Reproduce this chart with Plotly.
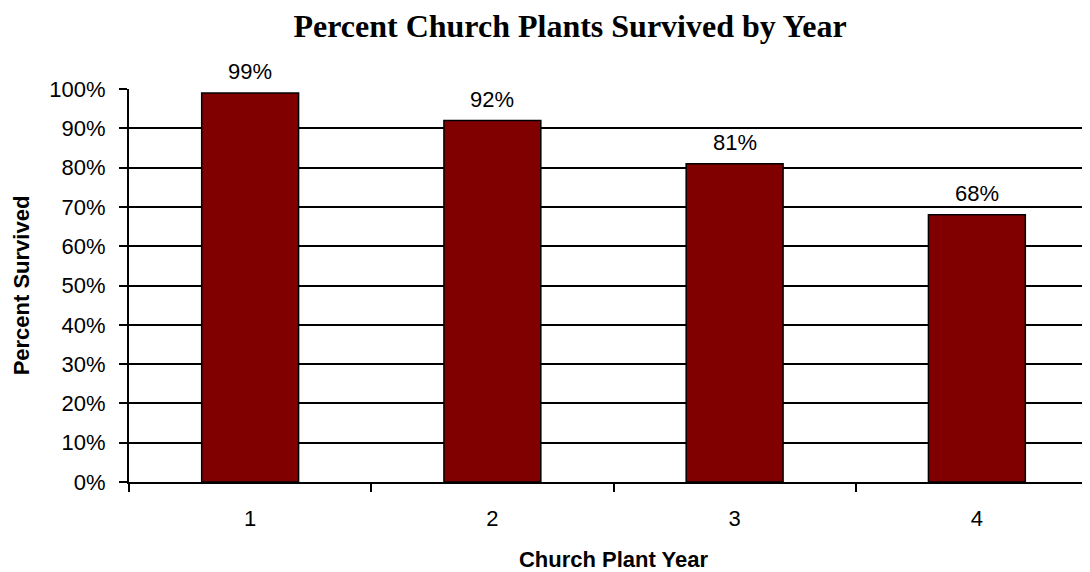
import plotly.graph_objects as go

categories = ["1", "2", "3", "4"]
survived = [99, 92, 81, 68]
y_ticks = list(range(0, 101, 10))
y_tick_labels = [f"{v}%" for v in y_ticks]

fig = go.Figure()
fig.add_trace(go.Bar(
    x=categories,
    y=survived,
    width=0.4,
    marker=dict(color="#800000", line=dict(color="#000000", width=1.5)),
    hoverinfo="skip",
))

for i, v in enumerate(survived):
    fig.add_annotation(
        x=i, y=v, xref="x", yref="y",
        text=f"{v}%", showarrow=False,
        yanchor="middle", yshift=21,
        font=dict(family="Liberation Sans, Arial", size=22, color="#000000"),
    )

fig.update_layout(
    width=1090, height=564,
    margin=dict(l=121, r=0, t=81, b=90),
    paper_bgcolor="#ffffff", plot_bgcolor="#ffffff",
    showlegend=False,
    title=dict(
        text="<b>Percent Church Plants Survived by Year</b>",
        x=562 / 1090, xref="container", xanchor="center",
        y=1 - 18 / 564, yref="container", yanchor="middle",
        font=dict(family="Liberation Serif, Times New Roman", size=32, color="#000000"),
    ),
    font=dict(family="Liberation Sans, Arial", size=22, color="#000000"),
    bargap=0.6,
)

fig.update_xaxes(
    type="category",
    range=[-0.5, 3.5],
    showline=True, linecolor="#000000", linewidth=2,
    ticks="outside", tickson="boundaries", ticklen=8, tickwidth=1.5, tickcolor="#000000",
    ticklabelstandoff=16,
    showgrid=False, zeroline=False,
    tickfont=dict(size=22),
    title=dict(text="<b>Church Plant Year</b>", font=dict(size=22), standoff=22),
)

fig.update_yaxes(
    range=[0, 100],
    tickvals=y_ticks, ticktext=y_tick_labels,
    showline=True, linecolor="#000000", linewidth=2,
    ticks="outside", ticklen=8, tickwidth=1.5, tickcolor="#000000",
    ticklabelstandoff=9,
    showgrid=True, gridcolor="#000000", gridwidth=1.5,
    zeroline=False,
    tickfont=dict(size=22),
    title=dict(text="<b>Percent Survived</b>", font=dict(size=22), standoff=14),
)

fig.write_html("out.html")
